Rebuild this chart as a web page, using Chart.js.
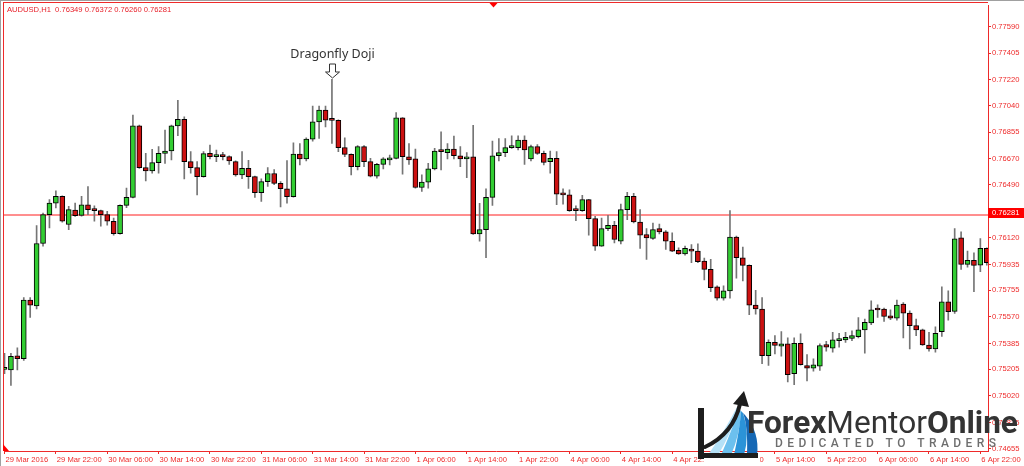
<!DOCTYPE html>
<html lang="en">
<head>
<meta charset="utf-8">
<title>AUDUSD,H1</title>
<script src="https://cdn.jsdelivr.net/npm/chart.js@4.4.1/dist/chart.umd.min.js"></script>
<style>
  html, body { margin: 0; padding: 0; background: #fff; overflow: hidden; }
  #wrap { width: 1024px; height: 466px; position: relative; }
</style>
</head>
<body>
<div id="wrap"><canvas id="candles"></canvas></div>
<script>
// AUDUSD H1 candles, bar 0 = 29 Mar 2016 14:00
const opens = [
  0.75205, 0.75202, 0.75299, 0.75279, 0.75687, 0.75647, 0.76081, 0.76282, 0.76362, 0.76409,
  0.76213, 0.76314, 0.76277, 0.76351, 0.76311, 0.76310, 0.76282, 0.76236, 0.76150, 0.76346,
  0.76402, 0.76900, 0.76609, 0.76586, 0.76644, 0.76708, 0.76725, 0.76900, 0.76946, 0.76651,
  0.76609, 0.76547, 0.76708, 0.76686, 0.76688, 0.76686, 0.76651, 0.76559, 0.76604, 0.76547,
  0.76434, 0.76512, 0.76568, 0.76499, 0.76462, 0.76407, 0.76704, 0.76670, 0.76808, 0.76928,
  0.77009, 0.76940, 0.76938, 0.76748, 0.76701, 0.76616, 0.76755, 0.76651, 0.76550, 0.76632,
  0.76663, 0.76674, 0.76955, 0.76685, 0.76670, 0.76471, 0.76508, 0.76600, 0.76722, 0.76713,
  0.76739, 0.76692, 0.76670, 0.76685, 0.76148, 0.76178, 0.76402, 0.76692, 0.76713, 0.76748,
  0.76748, 0.76801, 0.76670, 0.76755, 0.76708, 0.76651, 0.76674, 0.76431, 0.76420, 0.76312,
  0.76310, 0.76386, 0.76254, 0.76063, 0.76185, 0.76208, 0.76097, 0.76317, 0.76409, 0.76231,
  0.76144, 0.76116, 0.76185, 0.76162, 0.76097, 0.76033, 0.76009, 0.76040, 0.76028, 0.75959,
  0.75901, 0.75779, 0.75701, 0.75751, 0.76125, 0.75982, 0.75929, 0.75652, 0.75625, 0.75301,
  0.75393, 0.75366, 0.75382, 0.75175, 0.75387, 0.75232, 0.75214, 0.75227, 0.75378, 0.75352,
  0.75405, 0.75410, 0.75421, 0.75433, 0.75479, 0.75528, 0.75620, 0.75625, 0.75578, 0.75562,
  0.75659, 0.75597, 0.75509, 0.75481, 0.75375, 0.75348, 0.75468, 0.75675, 0.75608, 0.76120,
  0.75936, 0.75964, 0.75931, 0.76047
];
const highs = [
  0.75317, 0.75317, 0.75355, 0.75705, 0.75705, 0.76206, 0.76293, 0.76386, 0.76448, 0.76412,
  0.76339, 0.76362, 0.76409, 0.76478, 0.76344, 0.76314, 0.76305, 0.76258, 0.76350, 0.76466,
  0.76974, 0.76905, 0.76708, 0.76736, 0.76755, 0.76870, 0.76905, 0.77078, 0.76962, 0.76720,
  0.76651, 0.76720, 0.76766, 0.76732, 0.76715, 0.76692, 0.76656, 0.76720, 0.76660, 0.76550,
  0.76531, 0.76609, 0.76595, 0.76512, 0.76658, 0.76782, 0.76777, 0.76817, 0.77038, 0.77038,
  0.77038, 0.77223, 0.76942, 0.76817, 0.76705, 0.76762, 0.76762, 0.76674, 0.76639, 0.76679,
  0.76697, 0.76992, 0.76958, 0.76777, 0.76739, 0.76559, 0.76639, 0.76743, 0.76858, 0.76777,
  0.76829, 0.76755, 0.76713, 0.76903, 0.76360, 0.76462, 0.76794, 0.76812, 0.76812, 0.76831,
  0.76831, 0.76831, 0.76766, 0.76770, 0.76725, 0.76725, 0.76720, 0.76462, 0.76455, 0.76344,
  0.76416, 0.76389, 0.76270, 0.76258, 0.76277, 0.76236, 0.76355, 0.76438, 0.76431, 0.76317,
  0.76185, 0.76224, 0.76217, 0.76171, 0.76155, 0.76051, 0.76063, 0.76074, 0.76079, 0.75980,
  0.75971, 0.75786, 0.75786, 0.76310, 0.76132, 0.76056, 0.75933, 0.75756, 0.75705, 0.75410,
  0.75440, 0.75468, 0.75424, 0.75424, 0.75452, 0.75308, 0.75279, 0.75382, 0.75400, 0.75463,
  0.75456, 0.75463, 0.75474, 0.75566, 0.75555, 0.75682, 0.75654, 0.75631, 0.75620, 0.75687,
  0.75670, 0.75613, 0.75555, 0.75486, 0.75463, 0.75502, 0.75779, 0.75751, 0.76185, 0.76162,
  0.76028, 0.76016, 0.76116, 0.76051
];
const lows = [
  0.75175, 0.75094, 0.75202, 0.75267, 0.75566, 0.75625, 0.76063, 0.76189, 0.76328, 0.76230,
  0.76178, 0.76270, 0.76272, 0.76282, 0.76236, 0.76201, 0.76208, 0.76139, 0.76146, 0.76330,
  0.76398, 0.76604, 0.76517, 0.76570, 0.76570, 0.76639, 0.76663, 0.76831, 0.76531, 0.76570,
  0.76420, 0.76543, 0.76670, 0.76651, 0.76663, 0.76632, 0.76550, 0.76533, 0.76464, 0.76402,
  0.76374, 0.76478, 0.76490, 0.76336, 0.76362, 0.76404, 0.76628, 0.76656, 0.76794, 0.76812,
  0.76893, 0.76777, 0.76720, 0.76685, 0.76559, 0.76593, 0.76616, 0.76545, 0.76535, 0.76600,
  0.76628, 0.76670, 0.76563, 0.76632, 0.76466, 0.76443, 0.76466, 0.76593, 0.76593, 0.76670,
  0.76670, 0.76616, 0.76540, 0.76145, 0.76097, 0.75982, 0.76346, 0.76656, 0.76685, 0.76743,
  0.76732, 0.76632, 0.76656, 0.76701, 0.76628, 0.76570, 0.76351, 0.76355, 0.76305, 0.76240,
  0.76305, 0.76139, 0.76033, 0.76060, 0.76171, 0.76085, 0.76079, 0.76247, 0.76224, 0.76047,
  0.75971, 0.76109, 0.76148, 0.76040, 0.76025, 0.76005, 0.76000, 0.75947, 0.75947, 0.75827,
  0.75746, 0.75687, 0.75687, 0.75701, 0.75839, 0.75820, 0.75585, 0.75590, 0.75244, 0.75232,
  0.75313, 0.75297, 0.75117, 0.75099, 0.75234, 0.75124, 0.75193, 0.75198, 0.75331, 0.75324,
  0.75359, 0.75393, 0.75405, 0.75424, 0.75317, 0.75516, 0.75566, 0.75539, 0.75551, 0.75548,
  0.75424, 0.75348, 0.75440, 0.75371, 0.75331, 0.75324, 0.75435, 0.75548, 0.75594, 0.75901,
  0.75917, 0.75746, 0.75885, 0.75930
];
const closes = [
  0.75210, 0.75295, 0.75279, 0.75687, 0.75652, 0.76081, 0.76282, 0.76362, 0.76409, 0.76236,
  0.76317, 0.76275, 0.76351, 0.76317, 0.76310, 0.76282, 0.76236, 0.76150, 0.76346, 0.76402,
  0.76900, 0.76609, 0.76586, 0.76644, 0.76708, 0.76725, 0.76900, 0.76946, 0.76651, 0.76609,
  0.76547, 0.76706, 0.76685, 0.76688, 0.76686, 0.76656, 0.76559, 0.76604, 0.76547, 0.76434,
  0.76512, 0.76568, 0.76499, 0.76462, 0.76407, 0.76704, 0.76670, 0.76808, 0.76928, 0.77009,
  0.76940, 0.76938, 0.76748, 0.76701, 0.76616, 0.76755, 0.76651, 0.76550, 0.76632, 0.76670,
  0.76665, 0.76955, 0.76685, 0.76663, 0.76471, 0.76508, 0.76600, 0.76725, 0.76720, 0.76739,
  0.76692, 0.76670, 0.76685, 0.76148, 0.76178, 0.76402, 0.76692, 0.76713, 0.76748, 0.76762,
  0.76801, 0.76732, 0.76755, 0.76708, 0.76646, 0.76674, 0.76425, 0.76420, 0.76310, 0.76310,
  0.76386, 0.76254, 0.76063, 0.76185, 0.76208, 0.76109, 0.76317, 0.76409, 0.76231, 0.76139,
  0.76120, 0.76178, 0.76162, 0.76097, 0.76028, 0.76009, 0.76047, 0.76028, 0.75954, 0.75901,
  0.75774, 0.75701, 0.75751, 0.76125, 0.75982, 0.75929, 0.75652, 0.75625, 0.75301, 0.75393,
  0.75371, 0.75382, 0.75168, 0.75387, 0.75237, 0.75214, 0.75237, 0.75371, 0.75359, 0.75410,
  0.75410, 0.75428, 0.75440, 0.75481, 0.75532, 0.75620, 0.75618, 0.75573, 0.75562, 0.75652,
  0.75597, 0.75509, 0.75479, 0.75375, 0.75348, 0.75456, 0.75675, 0.75606, 0.76113, 0.75936,
  0.75964, 0.75929, 0.76047, 0.75947
];

// one time label every 8 bars, starting on bar 0
const timeLabels = [
  "29 Mar 2016", "29 Mar 22:00", "30 Mar 06:00", "30 Mar 14:00", "30 Mar 22:00",
  "31 Mar 06:00", "31 Mar 14:00", "31 Mar 22:00", "1 Apr 06:00", "1 Apr 14:00",
  "1 Apr 22:00", "4 Apr 06:00", "4 Apr 14:00", "4 Apr 22:00", "5 Apr 06:00",
  "5 Apr 14:00", "5 Apr 22:00", "6 Apr 06:00", "6 Apr 14:00", "6 Apr 22:00"
];
const labelEvery = 8;

const priceTicks = [
  0.77590, 0.77405, 0.77220, 0.77040, 0.76855, 0.76670, 0.76490, 0.76305, 0.76120,
  0.75935, 0.75755, 0.75570, 0.75385, 0.75205, 0.75020, 0.74835, 0.74655
];
const priceMin = 0.74637;
const priceMax = 0.77737;

const currentPrice = 0.76281;
const headerText = "AUDUSD,H1  0.76349 0.76372 0.76260 0.76281";
const noteBar = 51;
const noteText = "Dragonfly Doji";

const UP = "#32cd32";
const DOWN = "#cc1111";
const AXIS = "#ee2a2a";
const TICK_FONT = { family: "'Liberation Sans', Arial, sans-serif", size: 7.6 };

const terminalExtras = {
  id: "terminalExtras",
  beforeDraw(chart) {
    const ctx = chart.ctx;
    ctx.save();
    ctx.fillStyle = "#fff";
    ctx.fillRect(0, 0, chart.width, chart.height);
    ctx.restore();
  },
  beforeDatasetsDraw(chart) {
    const { ctx, chartArea: a, scales } = chart;
    // on the pixel edge so it spreads over two rows, like the terminal's pink line
    const py = Math.round(scales.y.getPixelForValue(currentPrice));
    ctx.save();
    ctx.strokeStyle = "#ff1e1e";
    ctx.lineWidth = 1;
    ctx.beginPath();
    ctx.moveTo(a.left, py);
    ctx.lineTo(a.right, py);
    ctx.stroke();
    ctx.restore();
  },
  afterDraw(chart) {
    const { ctx, chartArea: a, scales } = chart;
    ctx.save();

    // window frame
    ctx.fillStyle = "#a0a0a0";
    ctx.fillRect(0, 0, chart.width, 1);
    ctx.fillRect(0, 0, 1, chart.height);
    ctx.fillStyle = AXIS;
    ctx.fillRect(3, 2, a.right - 3, 1);
    ctx.fillRect(3, 2, 1, a.bottom - 2);

    // current price tag
    const py = Math.round(scales.y.getPixelForValue(currentPrice));
    ctx.fillStyle = "#ff0000";
    ctx.fillRect(a.right, py - 7, 36, 10);
    ctx.fillStyle = "#fff";
    ctx.font = "7.6px 'Liberation Sans', Arial, sans-serif";
    ctx.textBaseline = "middle";
    ctx.textAlign = "left";
    ctx.fillText(currentPrice.toFixed(5), a.right + 4, py - 2);

    // symbol header
    ctx.fillStyle = "#e8202a";
    ctx.fillText(headerText, 7, 9.5);

    // shift marker + corner marker
    ctx.fillStyle = "#ff0000";
    ctx.beginPath();
    ctx.moveTo(489.5, 3);
    ctx.lineTo(497.5, 3);
    ctx.lineTo(493.5, 7.5);
    ctx.closePath();
    ctx.fill();
    ctx.beginPath();
    ctx.moveTo(3, 444);
    ctx.lineTo(3, 451);
    ctx.lineTo(9, 451);
    ctx.closePath();
    ctx.fill();

    drawNote(ctx, scales);
    drawLogo(ctx);
    ctx.restore();
  },
};

function drawNote(ctx, scales) {
  const cx = Math.round(scales.x.getPixelForValue(noteBar)) + 0.5;
  const tip = Math.round(scales.y.getPixelForValue(highs[noteBar])) - 1;
  ctx.save();
  ctx.fillStyle = "#fff";
  ctx.strokeStyle = "#333";
  ctx.lineWidth = 1;
  ctx.beginPath();
  ctx.moveTo(cx - 3, tip - 14);
  ctx.lineTo(cx + 3, tip - 14);
  ctx.lineTo(cx + 3, tip - 6);
  ctx.lineTo(cx + 7, tip - 6);
  ctx.lineTo(cx, tip);
  ctx.lineTo(cx - 7, tip - 6);
  ctx.lineTo(cx - 3, tip - 6);
  ctx.closePath();
  ctx.fill();
  ctx.stroke();

  ctx.fillStyle = "#333";
  ctx.font = "12.5px 'Noto Sans', 'Open Sans', sans-serif";
  ctx.textAlign = "center";
  ctx.textBaseline = "alphabetic";
  ctx.fillText(noteText, cx, tip - 20);
  ctx.restore();
}

function drawLogo(ctx) {
  ctx.save();
  // white patch behind the mark
  ctx.fillStyle = "#fff";
  ctx.fillRect(704, 452, 56, 14);

  // blue blades fanning down from the arrow tip
  const blues = ["#b4e1f7", "#6cc0ee", "#2b93d8", "#1568b5"];
  blues.forEach((col, k) => {
    const b0 = 708 + k * 13;
    const b1 = b0 + 10;
    ctx.fillStyle = col;
    ctx.beginPath();
    ctx.moveTo(b0, 455);
    ctx.quadraticCurveTo(724 + k * 8, 432 - k * 2, 737 + k * 2, 407 + k * 2);
    ctx.lineTo(739 + k * 2, 409 + k * 2);
    ctx.quadraticCurveTo(730 + k * 10, 436 - k, b1, 455);
    ctx.closePath();
    ctx.fill();
  });

  // rising arrow
  ctx.strokeStyle = "#1d1d1d";
  ctx.lineWidth = 4;
  ctx.lineCap = "round";
  ctx.beginPath();
  ctx.moveTo(705, 447);
  ctx.quadraticCurveTo(733, 434, 740, 404);
  ctx.stroke();
  ctx.fillStyle = "#1d1d1d";
  ctx.beginPath();
  ctx.moveTo(744, 391);
  ctx.lineTo(749, 407);
  ctx.lineTo(733, 404);
  ctx.closePath();
  ctx.fill();

  // L bracket
  ctx.fillRect(698, 408, 6, 51);
  ctx.fillRect(698, 453, 60, 5);

  // word mark
  const fam = "Roboto, 'Open Sans', sans-serif";
  const parts = [
    ["Forex", "700"],
    ["Mentor", "400"],
    ["Online", "700"],
  ];
  let total = 0;
  parts.forEach(([t, w]) => {
    ctx.font = w + " 30px " + fam;
    total += ctx.measureText(t).width;
  });
  const size = (30 * 271) / total;
  let x = 747;
  ctx.fillStyle = "#333333";
  ctx.textBaseline = "alphabetic";
  ctx.textAlign = "left";
  parts.forEach(([t, w]) => {
    ctx.font = w + " " + size + "px " + fam;
    ctx.fillText(t, x, 433);
    x += ctx.measureText(t).width;
  });

  // tagline spread over a fixed width
  const tag = "DEDICATED TO TRADERS";
  ctx.font = "500 12px " + fam;
  ctx.fillStyle = "#6e6e6e";
  const plain = ctx.measureText(tag).width;
  const gap = (220 - plain) / (tag.length - 1);
  let tx = 775;
  for (const ch of tag) {
    ctx.fillText(ch, tx, 447);
    tx += ctx.measureText(ch).width + gap;
  }
  ctx.restore();
}

function initCandleChart() {
  const canvas = document.getElementById("candles");
  if (!canvas) return;

  const bodies = opens.map((o, i) => ({ x: i, y: [o, closes[i]] }));
  const wicks = lows.map((lo, i) => ({ x: i, y: [lo, highs[i]] }));
  const bodyColors = opens.map((o, i) => (closes[i] >= o ? UP : DOWN));

  new Chart(canvas.getContext("2d"), {
    type: "bar",
    data: {
      datasets: [
        {
          label: "body",
          data: bodies,
          backgroundColor: bodyColors,
          borderColor: "#000",
          borderWidth: 1,
          borderSkipped: false,
          barThickness: 5,
          minBarLength: 2,
          grouped: false,
          order: 1,
        },
        {
          label: "wick",
          data: wicks,
          backgroundColor: "#757575",
          borderWidth: 0,
          barThickness: 1,
          grouped: false,
          order: 2,
        },
      ],
    },
    options: {
      responsive: true,
      maintainAspectRatio: false,
      animation: false,
      layout: { padding: { left: 4, top: 3, right: 0, bottom: 0 } },
      plugins: {
        legend: { display: false },
        tooltip: { enabled: false },
      },
      scales: {
        x: {
          type: "linear",
          min: -0.08,
          max: 153.19,
          offset: false,
          grid: { offset: false, drawOnChartArea: false, tickLength: 3, color: AXIS },
          border: { color: AXIS },
          ticks: {
            autoSkip: false,
            maxRotation: 0,
            align: "start",
            labelOffset: 1,
            padding: 1,
            color: AXIS,
            font: TICK_FONT,
            callback: (v, i) => timeLabels[i],
          },
          afterBuildTicks: (s) => {
            s.ticks = timeLabels.map((t, k) => ({ value: k * labelEvery }));
          },
          afterFit: (s) => {
            s.height = 15;
            s.paddingLeft = 0;
            s.paddingRight = 0;
          },
        },
        y: {
          type: "linear",
          position: "right",
          min: priceMin,
          max: priceMax,
          bounds: "data",
          grid: { drawOnChartArea: false, tickLength: 3, color: AXIS },
          border: { color: AXIS },
          ticks: {
            color: AXIS,
            font: TICK_FONT,
            padding: 1,
            callback: (v) => v.toFixed(5),
          },
          afterBuildTicks: (s) => {
            s.ticks = priceTicks.map((v) => ({ value: v }));
          },
          afterFit: (s) => {
            s.width = 36;
          },
        },
      },
    },
    plugins: [terminalExtras],
  });
}

initCandleChart();
</script>
</body>
</html>
